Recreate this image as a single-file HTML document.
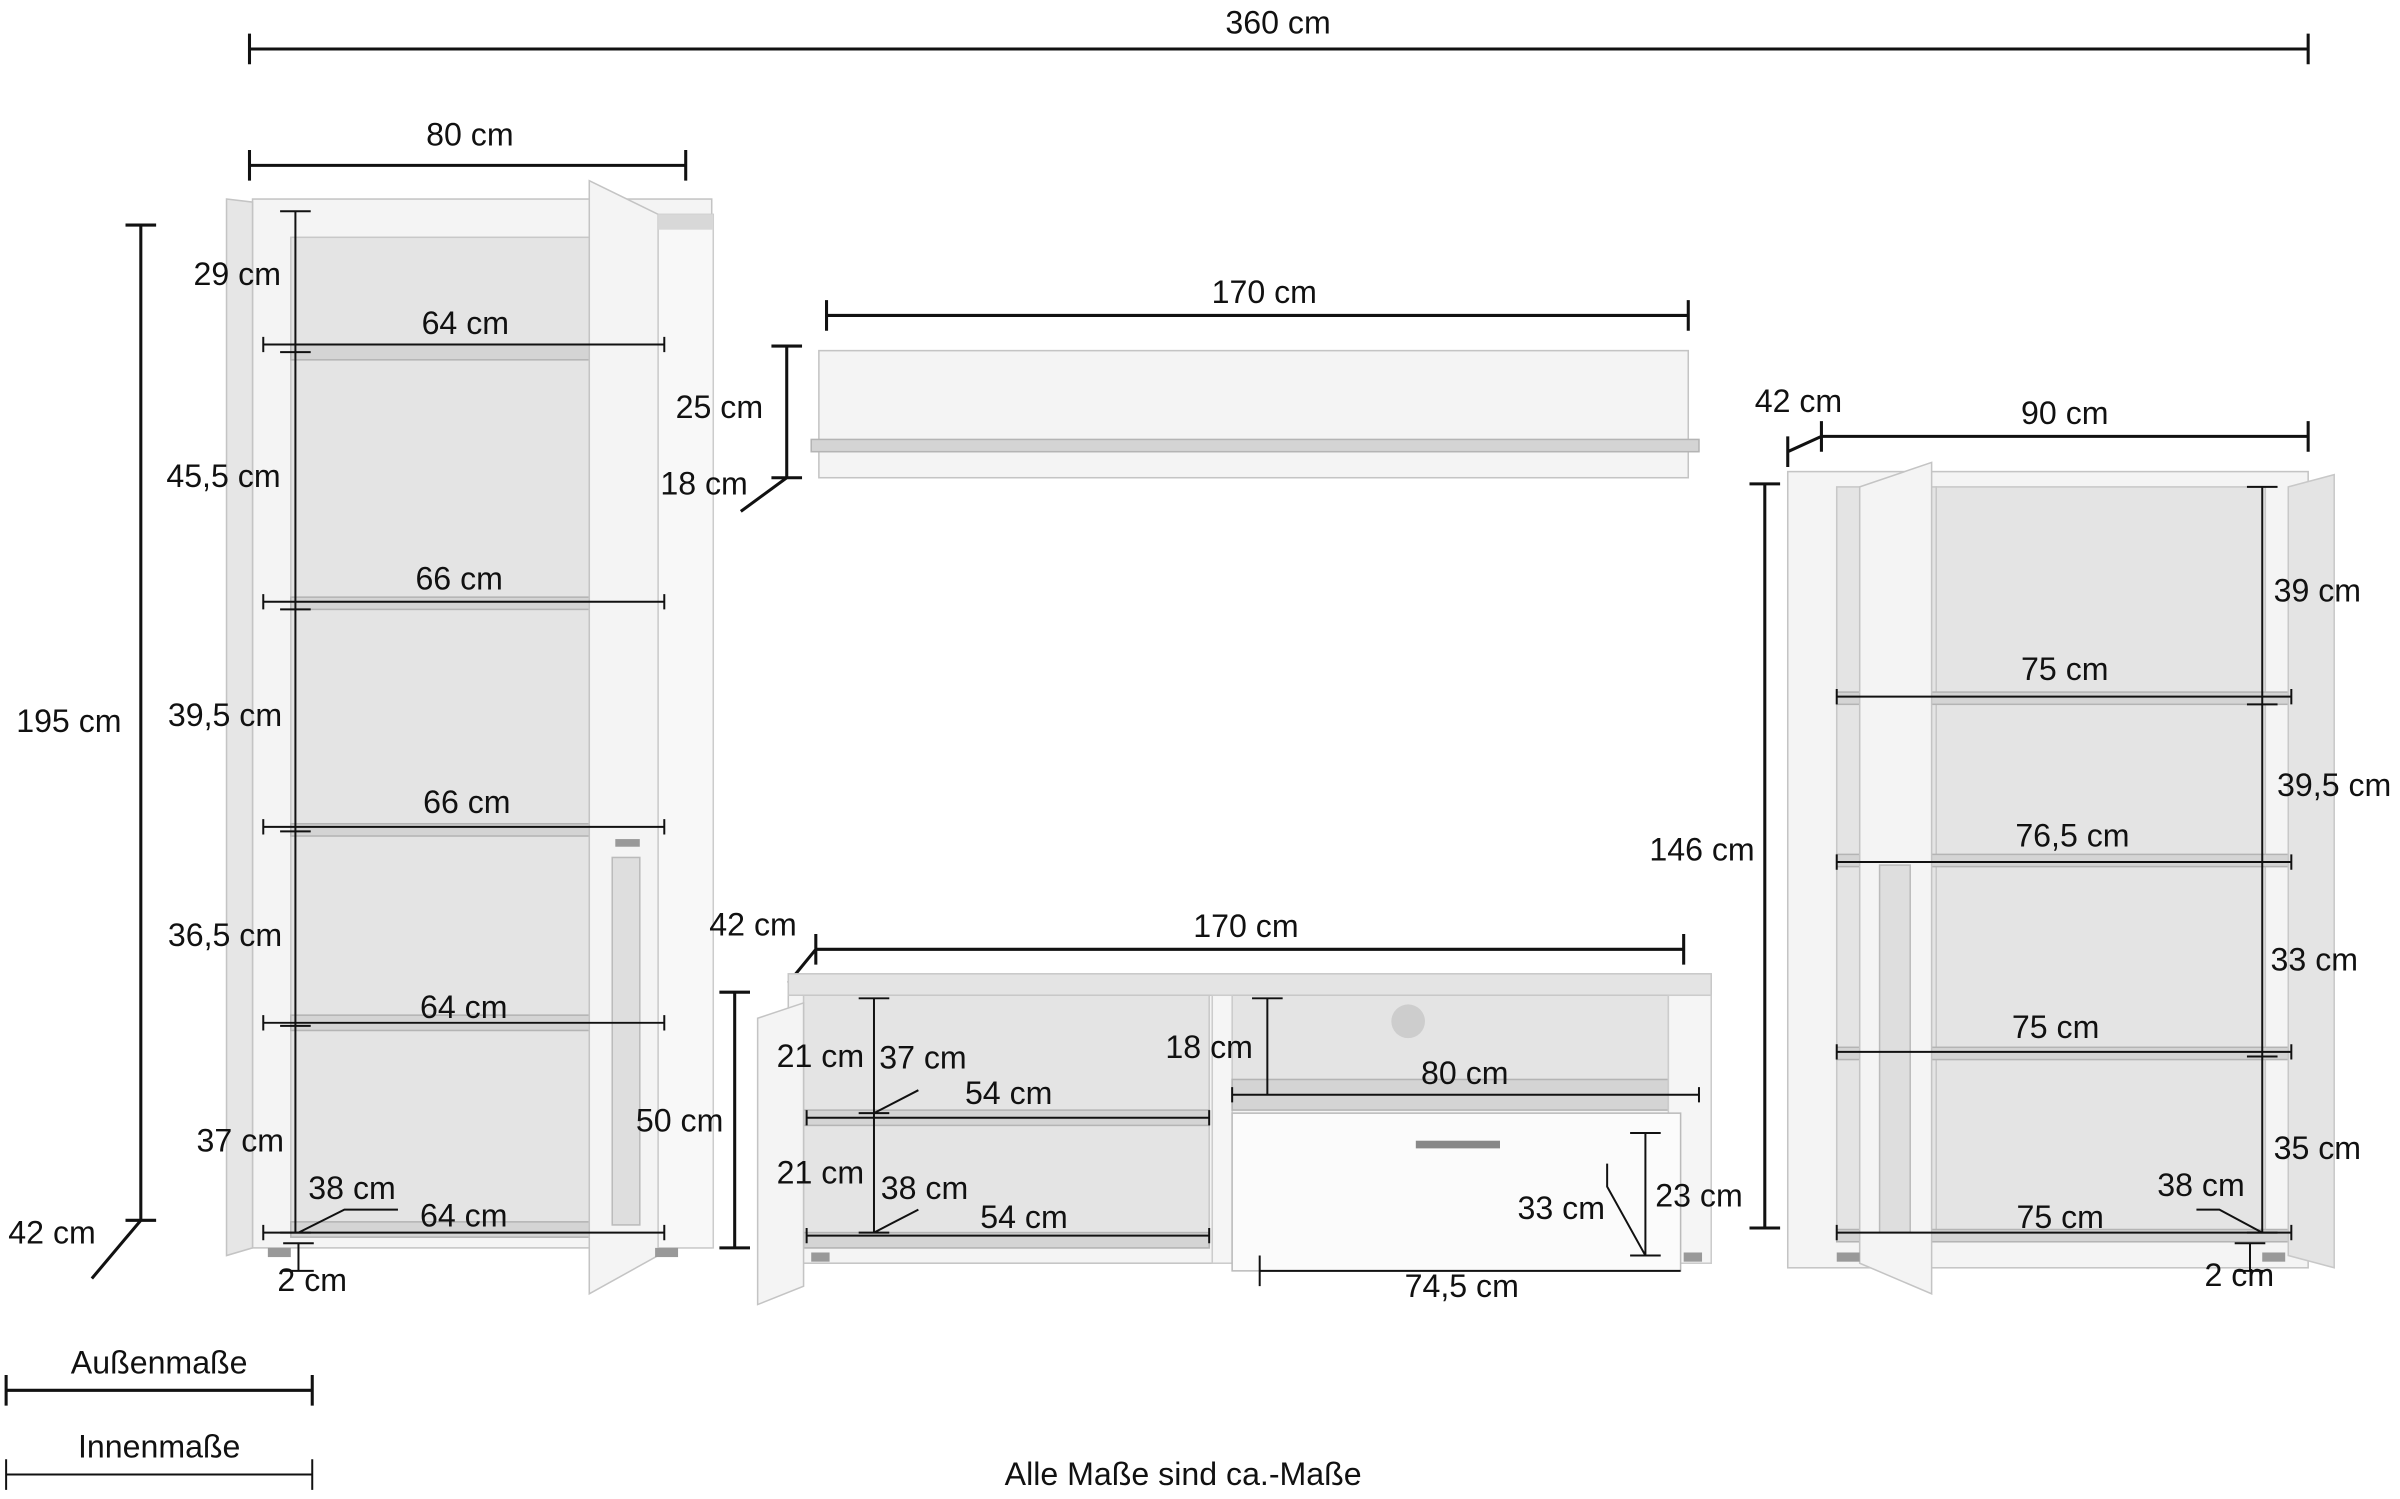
<!DOCTYPE html>
<html><head><meta charset="utf-8">
<style>
html,body{margin:0;padding:0;background:#fff;}
svg{display:block;}
text{font-family:"Liberation Sans Narrow","Liberation Sans",sans-serif;font-size:21px;fill:#111;}
.d{stroke:#111;stroke-width:2;fill:none;}
.t{stroke:#111;stroke-width:1.3;fill:none;}
.w{fill:#f4f4f4;stroke:#c4c4c4;stroke-width:1;}
.wd{fill:#e4e4e4;stroke:#c8c8c8;stroke-width:1;}
.sh{fill:#d4d4d4;stroke:#b4b4b4;stroke-width:1;}
</style></head>
<body>
<svg width="2400" height="1499" viewBox="0 0 1568 979" preserveAspectRatio="none" xmlns="http://www.w3.org/2000/svg">
<rect width="1568" height="979" fill="#fff"/>

<path class="d" d="M163 32H1508M163 22V42M1508 22V42"/>
<text x="835" y="22" text-anchor="middle">360 cm</text>

<!-- LEFT CABINET -->
<path class="d" d="M163 108H448M163 98V118M448 98V118"/>
<text x="307" y="95" text-anchor="middle">80 cm</text>
<rect class="w" x="165" y="130" width="300" height="685"/>
<rect class="wd" x="190" y="155" width="195" height="650"/>
<polygon points="148,130 165,132 165,815 148,820" fill="#e6e6e6" stroke="#c4c4c4"/>
<rect class="sh" x="190" y="225" width="240" height="10"/>
<rect class="sh" x="190" y="390" width="240" height="8"/>
<rect class="sh" x="190" y="538" width="240" height="8"/>
<rect class="sh" x="190" y="663" width="240" height="10"/>
<rect class="sh" x="190" y="798" width="240" height="10"/>
<polygon class="w" points="385,118 430,140 430,820 385,845"/>
<rect x="400" y="560" width="18" height="240" fill="#dedede" stroke="#bbb"/>
<rect x="402" y="548" width="16" height="5" fill="#999"/>
<rect x="430" y="140" width="36" height="675" fill="#f8f8f8" stroke="#ccc"/>
<rect x="430" y="140" width="36" height="10" fill="#d8d8d8"/>
<rect x="175" y="815" width="15" height="6" fill="#999"/><rect x="428" y="815" width="15" height="6" fill="#999"/>

<path class="d" d="M92 147V797M82 147H102M82 797H102M92 797L60 835"/>
<text x="45" y="478" text-anchor="middle">195 cm</text>
<text x="34" y="812" text-anchor="middle">42 cm</text>
<path class="t" d="M193 138V805M183 138H203M183 230H203M183 398H203M183 543H203M183 670H203M183 805H203"/>
<path class="t" d="M172 225H434M172 220V230M434 220V230"/>
<path class="t" d="M172 393H434M172 388V398M434 388V398"/>
<path class="t" d="M172 540H434M172 535V545M434 535V545"/>
<path class="t" d="M172 668H434M172 663V673M434 663V673"/>
<path class="t" d="M172 805H434M172 800V810M434 800V810"/>
<path class="t" d="M195 805L225 790H260M195 812V830M185 812H205M185 830H205"/>
<text x="155" y="186" text-anchor="middle">29 cm</text>
<text x="304" y="218" text-anchor="middle">64 cm</text>
<text x="146" y="318" text-anchor="middle">45,5 cm</text>
<text x="300" y="385" text-anchor="middle">66 cm</text>
<text x="147" y="474" text-anchor="middle">39,5 cm</text>
<text x="305" y="531" text-anchor="middle">66 cm</text>
<text x="147" y="618" text-anchor="middle">36,5 cm</text>
<text x="303" y="665" text-anchor="middle">64 cm</text>
<text x="157" y="752" text-anchor="middle">37 cm</text>
<text x="230" y="783" text-anchor="middle">38 cm</text>
<text x="303" y="801" text-anchor="middle">64 cm</text>
<text x="204" y="843" text-anchor="middle">2 cm</text>

<!-- WALL SHELF -->
<path class="d" d="M540 206H1103M540 196V216M1103 196V216"/>
<text x="826" y="198" text-anchor="middle">170 cm</text>
<rect class="w" x="535" y="229" width="568" height="83"/>
<rect class="sh" x="530" y="287" width="580" height="8"/>
<path class="d" d="M514 226V312M504 226H524M504 312H524M514 312L484 334"/>
<text x="470" y="273" text-anchor="middle">25 cm</text>
<text x="460" y="323" text-anchor="middle">18 cm</text>

<!-- TV BOARD -->
<path class="d" d="M533 620H1100M533 610V630M1100 610V630M533 620L515 642"/>
<text x="814" y="612" text-anchor="middle">170 cm</text>
<text x="492" y="611" text-anchor="middle">42 cm</text>
<rect class="w" x="515" y="645" width="603" height="180"/>
<rect class="wd" x="515" y="636" width="603" height="14"/>
<rect class="wd" x="525" y="650" width="265" height="165"/>
<rect class="wd" x="805" y="650" width="285" height="60"/>
<rect x="792" y="650" width="13" height="175" fill="#f5f5f5" stroke="#ccc"/>
<rect class="sh" x="525" y="725" width="265" height="10"/>
<rect class="sh" x="525" y="805" width="265" height="10"/>
<rect class="sh" x="805" y="705" width="285" height="20"/>
<rect x="1090" y="650" width="28" height="175" fill="#f5f5f5" stroke="#ccc"/>
<rect x="805" y="727" width="293" height="103" fill="#fbfbfb" stroke="#bbb"/>
<rect x="925" y="745" width="55" height="5" fill="#888"/>
<circle cx="920" cy="667" r="11" fill="#cdcdcd"/>
<polygon class="w" points="495,665 525,655 525,840 495,852"/>
<rect x="530" y="818" width="12" height="6" fill="#999"/><rect x="1100" y="818" width="12" height="6" fill="#999"/>
<path class="d" d="M480 648V815M470 648H490M470 815H490"/>
<text x="444" y="739" text-anchor="middle">50 cm</text>
<path class="t" d="M571 652V805M561 652H581M561 727H581M561 805H581M571 727L600 712M571 805L600 790"/>
<path class="t" d="M527 730H790M527 725V735M790 725V735M527 807H790M527 802V812M790 802V812"/>
<path class="t" d="M828 652V715M818 652H838M818 715H838M805 715H1110M805 710V720M1110 710V720"/>
<path class="t" d="M1075 740V820M1065 740H1085M1065 820H1085M1050 760V775L1075 820M823 830H1098M823 820V840"/>
<text x="536" y="697" text-anchor="middle">21 cm</text>
<text x="603" y="698" text-anchor="middle">37 cm</text>
<text x="659" y="721" text-anchor="middle">54 cm</text>
<text x="536" y="773" text-anchor="middle">21 cm</text>
<text x="604" y="783" text-anchor="middle">38 cm</text>
<text x="669" y="802" text-anchor="middle">54 cm</text>
<text x="790" y="691" text-anchor="middle">18 cm</text>
<text x="957" y="708" text-anchor="middle">80 cm</text>
<text x="1020" y="796" text-anchor="middle">33 cm</text>
<text x="1110" y="788" text-anchor="middle">23 cm</text>
<text x="955" y="847" text-anchor="middle">74,5 cm</text>

<!-- RIGHT CABINET -->
<path class="d" d="M1190 285H1508M1190 275V295M1508 275V295M1168 295L1190 285M1168 285V305"/>
<text x="1349" y="277" text-anchor="middle">90 cm</text>
<text x="1175" y="269" text-anchor="middle">42 cm</text>
<rect class="w" x="1168" y="308" width="340" height="520"/>
<rect class="wd" x="1265" y="318" width="215" height="490"/>
<rect class="wd" x="1200" y="318" width="65" height="490"/>
<rect class="sh" x="1200" y="452" width="295" height="8"/>
<rect class="sh" x="1200" y="558" width="295" height="8"/>
<rect class="sh" x="1200" y="684" width="295" height="8"/>
<rect class="sh" x="1200" y="803" width="295" height="8"/>
<polygon class="w" points="1215,318 1262,302 1262,845 1215,825"/>
<rect x="1228" y="565" width="20" height="240" fill="#dedede" stroke="#bbb"/>
<polygon class="wd" points="1495,318 1525,310 1525,828 1495,820"/>
<rect x="1478" y="818" width="15" height="6" fill="#999"/><rect x="1200" y="818" width="15" height="6" fill="#999"/>
<path class="d" d="M1153 316V802M1143 316H1163M1143 802H1163"/>
<text x="1112" y="562" text-anchor="middle">146 cm</text>
<path class="t" d="M1478 318V805M1468 318H1488M1468 460H1488M1468 563H1488M1468 690H1488M1468 805H1488"/>
<path class="t" d="M1200 455H1497M1200 450V460M1497 450V460"/>
<path class="t" d="M1200 563H1497M1200 558V568M1497 558V568"/>
<path class="t" d="M1200 687H1497M1200 682V692M1497 682V692"/>
<path class="t" d="M1200 805H1497M1200 800V810M1497 800V810"/>
<path class="t" d="M1478 805L1450 790H1435M1470 812V830M1460 812H1480M1460 830H1480"/>
<text x="1514" y="393" text-anchor="middle">39 cm</text>
<text x="1349" y="444" text-anchor="middle">75 cm</text>
<text x="1525" y="520" text-anchor="middle">39,5 cm</text>
<text x="1354" y="553" text-anchor="middle">76,5 cm</text>
<text x="1512" y="634" text-anchor="middle">33 cm</text>
<text x="1343" y="678" text-anchor="middle">75 cm</text>
<text x="1514" y="757" text-anchor="middle">35 cm</text>
<text x="1438" y="781" text-anchor="middle">38 cm</text>
<text x="1346" y="802" text-anchor="middle">75 cm</text>
<text x="1463" y="840" text-anchor="middle">2 cm</text>

<text x="104" y="897" text-anchor="middle">Außenmaße</text>
<path class="d" d="M4 908H204M4 898V918M204 898V918"/>
<text x="104" y="952" text-anchor="middle">Innenmaße</text>
<path class="t" d="M4 963H204M4 953V973M204 953V973"/>
<text x="773" y="970" text-anchor="middle">Alle Maße sind ca.-Maße</text>
</svg>
</body></html>
